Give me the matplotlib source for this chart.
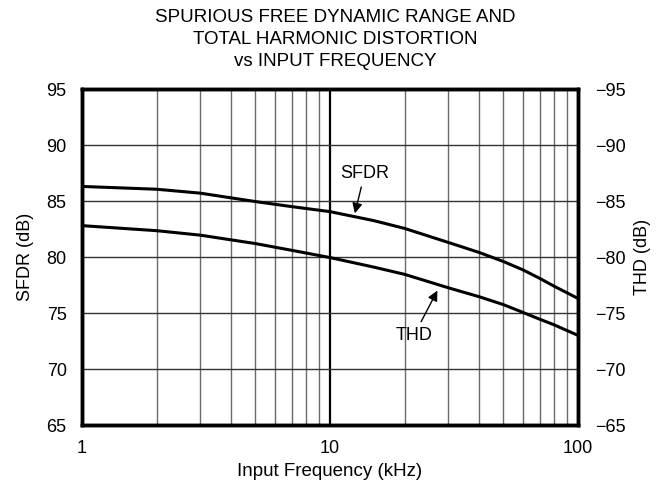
import numpy as np
import matplotlib
matplotlib.use("Agg")
import matplotlib.pyplot as plt
from matplotlib.ticker import FixedLocator, NullFormatter

plt.rcParams["font.family"] = ["Liberation Sans", "DejaVu Sans"]

# Values
freq_khz = [1, 2, 3, 5, 7, 10, 15, 20, 30, 40, 50, 60, 70, 80, 100]
sfdr_db = [86.3, 86.05, 85.7, 84.95, 84.5, 84.05, 83.25, 82.55, 81.3, 80.4,
           79.6, 78.85, 78.1, 77.4, 76.3]
thd_db = [82.8, 82.35, 81.95, 81.2, 80.6, 79.95, 79.1, 78.45, 77.25, 76.45,
          75.75, 75.05, 74.45, 73.95, 73.0]

left_ticks = [65, 70, 75, 80, 85, 90, 95]
right_ticks = [-65, -70, -75, -80, -85, -90, -95]

FS = 13

fig = plt.figure(figsize=(6.7, 4.95), dpi=100)
ax = fig.add_axes([82 / 670, 1 - 425 / 495, 496 / 670, 336 / 495])

ax.set_xscale("log")
ax.set_xlim(1, 100)
ax.set_ylim(65, 95)

# grid: minor decade lines grey, major black
minor = [m * d for d in (1, 10) for m in range(2, 10)]
ax.xaxis.set_minor_locator(FixedLocator(minor))
ax.xaxis.set_minor_formatter(NullFormatter())
ax.set_xticks([1, 10, 100])
ax.set_xticklabels(["1", "10", "100"])
ax.set_yticks(left_ticks)
for f in minor:
    ax.axvline(f, color="#6a6a6a", lw=1.0, zorder=1)
ax.axvline(10, color="black", lw=1.6, zorder=1)
for v in left_ticks[1:-1]:
    ax.axhline(v, color="#333333", lw=1.0, zorder=1)

ax.tick_params(which="both", length=0, pad=11, labelsize=FS)

ax.plot(freq_khz, sfdr_db, color="black", lw=2.2, zorder=3)
ax.plot(freq_khz, thd_db, color="black", lw=2.2, zorder=3)

arrow = dict(arrowstyle="-|>", color="black", lw=1.0, mutation_scale=15,
             shrinkA=2, shrinkB=0)
ax.annotate("SFDR", xy=(12.6, 83.9), xytext=(13.8, 87.5), ha="center",
            va="center", fontsize=FS, arrowprops=arrow, zorder=4)
ax.annotate("THD", xy=(27.1, 77.0), xytext=(21.8, 73.0), ha="center",
            va="center", fontsize=FS, arrowprops=arrow, zorder=4)

for s in ax.spines.values():
    s.set_linewidth(2.5)

ax.set_xlabel("Input Frequency (kHz)", fontsize=13.5, labelpad=4)
ax.set_ylabel("SFDR (dB)", fontsize=FS, labelpad=9)

ax2 = ax.twinx()
ax2.set_ylim(-65, -95)
ax2.set_yticks(right_ticks)
ax2.tick_params(length=0, pad=12, labelsize=FS)
for s in ax2.spines.values():
    s.set_linewidth(2.5)
ax2.set_ylabel("THD (dB)", fontsize=FS, labelpad=6)

fig.suptitle("SPURIOUS FREE DYNAMIC RANGE AND\nTOTAL HARMONIC DISTORTION\nvs INPUT FREQUENCY",
             y=0.982, fontsize=13.5, linespacing=1.4)

fig.savefig("out.png", dpi=100)
